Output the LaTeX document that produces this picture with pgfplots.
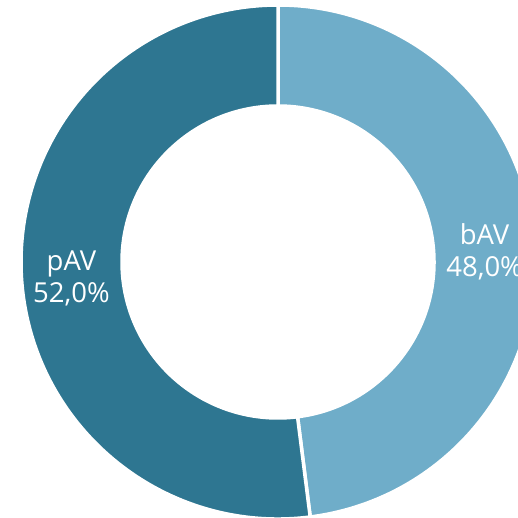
\documentclass[border=0pt]{standalone}
\usepackage{pgfplots}
\usepackage{pgfplotstable}
\usetikzlibrary{calc}
\usepackage{fontspec}
\setmainfont{Open Sans}
\pgfplotsset{compat=1.18}
\definecolor{bAVcol}{HTML}{6FADC9}
\definecolor{pAVcol}{HTML}{2E7691}
\pgfplotstableread{
label value
bAV 48.0
pAV 52.0
}\piedata
\begin{document}
\begin{tikzpicture}
\begin{axis}[
  width=518pt, height=517pt, scale only axis,
  xmin=0, xmax=518, ymin=0, ymax=517,
  hide axis, clip=true, disabledatascaling,
  /pgf/number format/assume math mode=true,
]
\pgfplotstablegetrowsof{\piedata}
\pgfmathtruncatemacro{\nrows}{\pgfplotsretval-1}
\def\cx{278}\def\cy{255}\def\Ro{257}\def\Ri{156}
\pgfmathsetmacro{\startang}{90}
\pgfplotsforeachungrouped \i in {0,...,\nrows}{%
  \pgfplotstablegetelem{\i}{value}\of{\piedata}\let\val\pgfplotsretval
  \pgfplotstablegetelem{\i}{label}\of{\piedata}\let\lab\pgfplotsretval
  \pgfmathsetmacro{\endang}{\startang-\val*3.6}
  \pgfmathsetmacro{\midang}{(\startang+\endang)/2}
  \edef\temp{\noexpand\fill[\lab col, draw=white, line width=3.5pt]
    ($(axis cs:\cx,\cy)+(\startang:\Ro pt)$) arc[start angle=\startang, end angle=\endang, radius=\Ro pt]
    -- ($(axis cs:\cx,\cy)+(\endang:\Ri pt)$) arc[start angle=\endang, end angle=\startang, radius=\Ri pt] -- cycle;
    \noexpand\node[white, align=center, yshift=-3pt, font=\noexpand\fontsize{27.5}{32}\noexpand\selectfont]
      at ($(axis cs:\cx,\cy)+(\midang:207pt)$) {\lab\noexpand\\\noexpand\pgfmathprintnumber[fixed,fixed zerofill,precision=1,use comma]{\val}\noexpand\%};}
  \temp
  \global\let\startang\endang
}
\end{axis}
\pgfresetboundingbox
\path[use as bounding box] (current axis.south west) rectangle (current axis.north east);
\end{tikzpicture}
\end{document}
